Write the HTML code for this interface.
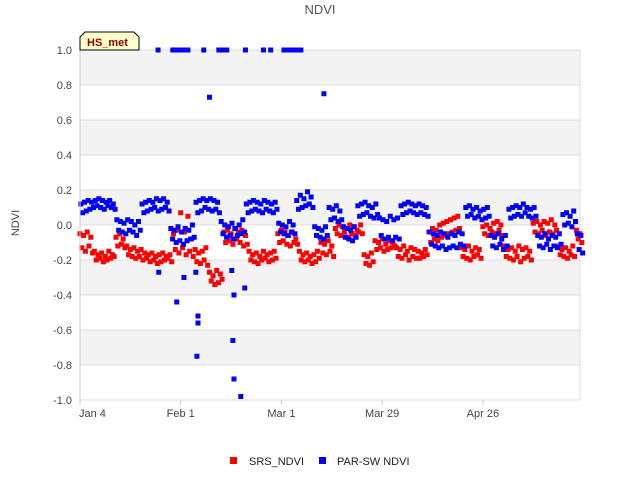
<!DOCTYPE html>
<html><head><meta charset="utf-8"><style>
body{margin:0;background:#fff;font-family:"Liberation Sans",sans-serif}
</style></head><body>
<svg id="c" width="640" height="480" xmlns="http://www.w3.org/2000/svg" font-family="Liberation Sans, sans-serif">
<text x="320" y="14" text-anchor="middle" font-size="13" fill="#555">NDVI</text>
<text transform="translate(19,223) rotate(-90)" text-anchor="middle" font-size="11" fill="#444">NDVI</text>
<g id="grid"></g>
<g id="marks"></g>
<g id="axes"></g>
<g>
<path d="M80,50 L80,37 L85,32 L134,32 L139,37 L139,50 Z" fill="#ffffcc" stroke="#000" stroke-width="1"/>
<text x="87" y="46" font-size="11" font-weight="bold" fill="#8b0000">HS_met</text>
</g>
<g>
<rect x="230" y="457" width="7" height="7" fill="#ff0000"/>
<text x="249" y="465" font-size="11" fill="#222">SRS_NDVI</text>
<rect x="319" y="457" width="7" height="7" fill="#0000ff"/>
<text x="337" y="465" font-size="11" fill="#222">PAR-SW NDVI</text>
</g>
</svg>
<script>
const yTicks=[1.0,0.8,0.6,0.4,0.2,0.0,-0.2,-0.4,-0.6,-0.8,-1.0];
const xTickLabels=["Jan 4","Feb 1","Mar 1","Mar 29","Apr 26"];
const xTickDays=[0,28,56,84,112];
const srsA=[-0.05,-0.06,-0.04,-0.07,-0.15,-0.17,-0.16,-0.18,-0.15,-0.17,-0.07,-0.05,-0.08,-0.12,-0.14,-0.13,-0.15,-0.14,-0.16,-0.17,-0.16,-0.18,-0.17,-0.16,-0.18,-0.17,-0.05,-0.03,0.07,-0.04,0.05,-0.08,-0.14,-0.16,-0.15,-0.13,-0.27,-0.29,-0.26,-0.28,-0.04,-0.03,-0.05,-0.02,-0.04,-0.03,-0.06,-0.15,-0.17,-0.16,-0.18,-0.15,-0.17,-0.16,-0.15,-0.05,-0.03,-0.04,-0.06,-0.04,-0.08,-0.15,-0.17,-0.16,-0.18,-0.17,-0.15,-0.1,-0.11,-0.09,-0.12,-0.02,0.0,-0.01,-0.02,0.0,-0.01,-0.03,0.0,-0.17,-0.18,-0.16,-0.09,-0.1,-0.08,-0.11,-0.09,-0.1,-0.13,-0.14,-0.12,-0.15,-0.13,-0.14,-0.15,-0.16,-0.14,-0.04,-0.02,-0.03,0.0,0.01,0.02,0.03,0.04,0.05,-0.13,-0.14,-0.12,-0.15,-0.13,-0.14,-0.01,0.0,-0.02,0.01,0.02,0.0,-0.12,-0.14,-0.13,-0.15,-0.12,-0.14,-0.13,-0.15,0.01,0.02,0.0,0.02,0.01,0.03,0.0,-0.12,-0.14,-0.13,-0.15,-0.12,-0.03,-0.05];
const srsB=[-0.13,-0.15,-0.12,-0.16,-0.2,-0.19,-0.21,-0.2,-0.19,-0.18,-0.12,-0.11,-0.13,-0.17,-0.18,-0.19,-0.18,-0.2,-0.19,-0.21,-0.2,-0.22,-0.21,-0.2,-0.19,-0.21,-0.14,-0.16,-0.13,-0.17,-0.15,-0.18,-0.21,-0.22,-0.2,-0.23,-0.32,-0.34,-0.33,-0.31,-0.1,-0.09,-0.11,-0.08,-0.1,-0.12,-0.11,-0.2,-0.21,-0.22,-0.2,-0.19,-0.21,-0.2,-0.19,-0.1,-0.09,-0.11,-0.12,-0.1,-0.11,-0.2,-0.21,-0.2,-0.22,-0.21,-0.19,-0.16,-0.17,-0.15,-0.18,-0.05,-0.06,-0.04,-0.07,-0.05,-0.06,-0.04,-0.05,-0.22,-0.23,-0.21,-0.14,-0.13,-0.15,-0.14,-0.13,-0.12,-0.18,-0.19,-0.17,-0.2,-0.18,-0.19,-0.19,-0.18,-0.17,-0.1,-0.08,-0.09,-0.07,-0.06,-0.05,-0.04,-0.03,-0.02,-0.18,-0.19,-0.2,-0.18,-0.17,-0.19,-0.05,-0.06,-0.04,-0.05,-0.03,-0.06,-0.18,-0.19,-0.2,-0.18,-0.21,-0.19,-0.18,-0.2,-0.04,-0.05,-0.03,-0.06,-0.04,-0.05,-0.03,-0.17,-0.18,-0.19,-0.17,-0.18,-0.08,-0.1];
const parA=[0.12,0.13,0.14,0.13,0.14,0.15,0.14,0.13,0.14,0.12,0.03,0.02,0.01,0.03,0.02,0.0,0.02,0.12,0.13,0.14,0.13,0.15,0.14,0.15,0.13,-0.02,-0.03,-0.01,-0.04,-0.02,-0.03,0.0,0.13,0.14,0.15,0.14,0.15,0.14,0.13,0.02,0.0,-0.01,0.01,-0.02,0.0,0.03,0.12,0.13,0.14,0.13,0.12,0.14,0.13,0.12,0.13,0.01,0.0,-0.01,0.02,0.0,0.14,0.17,0.15,0.19,0.16,-0.01,-0.02,-0.03,-0.01,0.1,0.09,0.11,0.08,-0.01,-0.02,-0.03,-0.01,0.11,0.12,0.13,0.11,0.1,0.12,0.04,0.03,0.02,0.05,0.03,0.04,0.11,0.12,0.13,0.12,0.11,0.12,0.11,0.1,-0.04,-0.05,-0.06,-0.04,-0.05,-0.07,-0.05,-0.06,-0.04,-0.05,0.1,0.11,0.09,0.1,0.08,0.09,0.1,-0.06,-0.07,-0.05,-0.08,-0.06,0.09,0.1,0.11,0.1,0.12,0.1,0.09,0.1,-0.06,-0.07,-0.05,-0.08,-0.06,-0.07,-0.05,0.06,0.07,0.05,0.08,-0.05,-0.06];
const parB=[0.07,0.08,0.09,0.1,0.11,0.1,0.09,0.11,0.1,0.09,-0.03,-0.04,-0.05,-0.03,-0.04,-0.06,-0.03,0.07,0.08,0.09,0.1,0.08,0.09,0.1,0.08,-0.08,-0.1,-0.09,-0.11,-0.09,-0.08,-0.07,0.07,0.08,0.1,0.09,0.08,0.09,0.07,-0.05,-0.07,-0.06,-0.08,-0.06,-0.05,-0.04,0.07,0.08,0.09,0.08,0.07,0.09,0.08,0.07,0.09,-0.04,-0.05,-0.06,-0.04,-0.05,0.09,0.1,0.11,0.12,0.1,-0.06,-0.07,-0.08,-0.06,0.03,0.04,0.02,0.03,-0.07,-0.08,-0.09,-0.07,0.05,0.06,0.07,0.05,0.04,0.06,-0.06,-0.08,-0.07,-0.09,-0.07,-0.08,0.06,0.07,0.08,0.07,0.06,0.07,0.06,0.05,-0.11,-0.12,-0.13,-0.12,-0.14,-0.13,-0.12,-0.13,-0.11,-0.12,0.05,0.06,0.04,0.05,0.03,0.04,0.05,-0.12,-0.13,-0.11,-0.14,-0.12,0.04,0.05,0.06,0.05,0.07,0.05,0.04,0.05,-0.12,-0.13,-0.11,-0.14,-0.12,-0.13,-0.11,0.0,0.01,-0.01,0.02,-0.14,-0.16];
const outDays=[21.7,25.8,27,28,29,30,34.4,38.6,39.7,40.8,46,51,53,56.7,57.8,59,60.3,61.4,36,67.8,21.9,26.9,28.9,32.2,32.8,32.8,32.5,42.8,45.8,42.5,42.8,44.7,42.2];
const outVals=[1,1,1,1,1,1,1,1,1,1,1,1,1,1,1,1,1,1,0.73,0.75,-0.27,-0.44,-0.3,-0.27,-0.52,-0.56,-0.75,-0.4,-0.36,-0.66,-0.88,-0.98,-0.26];

const NS="http://www.w3.org/2000/svg";
const L=80,R=580,T=50,B=400,D0=0,D1=139;
const xs=d=>L+(d-D0)/(D1-D0)*(R-L);
const ys=v=>T+(1-v)/2*(B-T);
function mk(tag,at,parent){const e=document.createElementNS(NS,tag);for(const k in at)e.setAttribute(k,at[k]);parent.appendChild(e);return e;}
const grid=document.getElementById('grid'),marks=document.getElementById('marks'),axes=document.getElementById('axes');
const bg=mk('rect',{x:L,y:T,width:R-L,height:B-T,fill:'#fff'},grid);


for(let i=0;i<yTicks.length-1;i+=2){
  const b=mk('rect',{x:L,y:ys(yTicks[i]),width:R-L,height:ys(yTicks[i+1])-ys(yTicks[i]),fill:'#f3f3f3'},grid);
  
  
}
yTicks.forEach(v=>{
  const g=mk('line',{x1:L,x2:R,y1:ys(v),y2:ys(v),stroke:'#ddd','stroke-width':1},grid);
  
  
  const t=mk('text',{x:L-8,y:ys(v)+4,'text-anchor':'end','font-size':11,fill:'#444'},axes);
  t.textContent=v.toFixed(1);
  
  
});
const rb=mk('line',{x1:R,x2:R,y1:T,y2:B,stroke:'#ddd'},grid);


const ax=mk('line',{x1:L,x2:L,y1:T,y2:B,stroke:'#ccc'},axes);


xTickDays.forEach((d,i)=>{
  const tk=mk('line',{x1:xs(d),x2:xs(d),y1:B,y2:B+5,stroke:'#ccc'},axes);
  
  
  const t=mk('text',{x:xs(d),y:B+17,'text-anchor':i==0?'start':'middle','font-size':11,fill:'#444'},axes);
  if(i==0)t.setAttribute('x',xs(d)-1);
  t.textContent=xTickLabels[i];
  
  
});
function pt(d,v,col,name){
  const r=mk('rect',{x:xs(d)-2.5,y:ys(v)-2.5,width:5,height:5,fill:col},marks);
  
  
}
for(let i=0;i<srsA.length;i++){pt(i,srsA[i],'#ff0000','srs-point');pt(i+0.5,srsB[i],'#ff0000','srs-point');}
for(let i=0;i<parA.length;i++){pt(i+0.25,parA[i],'#0000ff','par-point');pt(i+0.75,parB[i],'#0000ff','par-point');}
for(let i=0;i<outDays.length;i++)pt(outDays[i],outVals[i],'#0000ff','par-outlier');
</script>
</body></html>
